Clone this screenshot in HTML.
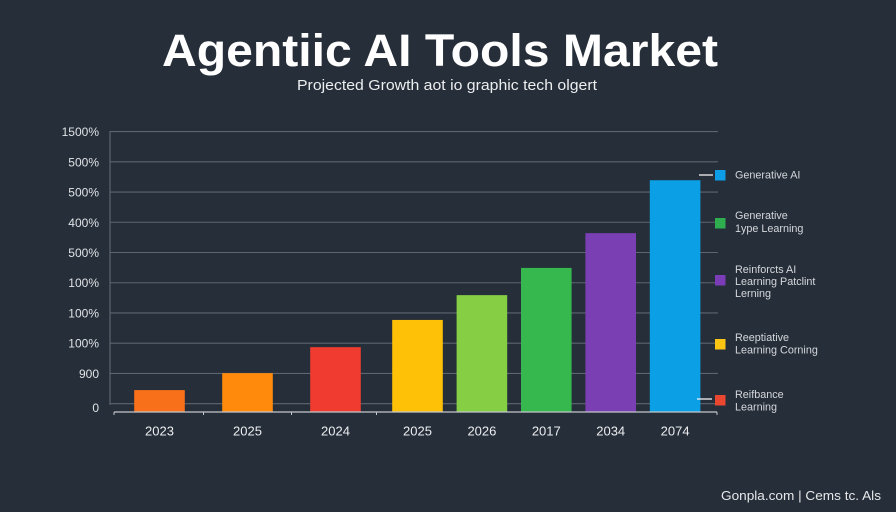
<!DOCTYPE html>
<html lang="en">
<head>
<meta charset="utf-8">
<title>Agentic AI Tools Market</title>
<style>
html,body{margin:0;padding:0;background:#262e39;}
body{width:896px;height:512px;overflow:hidden;font-family:"Liberation Sans",sans-serif;}
svg{display:block;}
text{font-family:"Liberation Sans",sans-serif;}
</style>
</head>
<body>
<svg id="chart" width="896" height="512" viewBox="0 0 896 512" xmlns="http://www.w3.org/2000/svg">
  <rect x="0" y="0" width="896" height="512" fill="#262e39"/>
  <text x="440" y="66" text-anchor="middle" font-size="45" font-weight="700" fill="#ffffff" textLength="556" lengthAdjust="spacingAndGlyphs">Agentiic AI Tools Market</text>
  <text x="447" y="90" text-anchor="middle" font-size="15" fill="#eceef0" textLength="300" lengthAdjust="spacingAndGlyphs">Projected Growth aot io graphic tech olgert</text>
  <g id="grid"></g>
  <g id="y-labels"></g>
  <line x1="110" y1="131" x2="110" y2="405" stroke="#5c6570" stroke-width="1.2"/>
  <g id="bars"></g>
  <g id="x-axis"></g>
  <g id="x-labels"></g>

  <g>
    <line x1="699" y1="175" x2="713" y2="175" stroke="#f0f1f3" stroke-width="1.3"/>
    <line x1="697" y1="399" x2="712" y2="399" stroke="#f0f1f3" stroke-width="1.3"/>
    <g>
      <rect x="715" y="170" width="10.5" height="10.5" fill="#0d9de6"/>
      <text x="735" y="178.5" font-size="10.8" fill="#d5d8dc">Generative AI</text>
    </g>
    <g>
      <rect x="715" y="218" width="10.5" height="10.5" fill="#2fae4f"/>
      <text x="735" y="219" font-size="10.8" fill="#d5d8dc">Generative</text>
      <text x="735" y="232" font-size="10.8" fill="#d5d8dc">1ype Learning</text>
    </g>
    <g>
      <rect x="715" y="275" width="10.5" height="10.5" fill="#7a3db5"/>
      <text x="735" y="273" font-size="10.8" fill="#d5d8dc">Reinforcts AI</text>
      <text x="735" y="285" font-size="10.8" fill="#d5d8dc">Learning Patclint</text>
      <text x="735" y="297" font-size="10.8" fill="#d5d8dc">Lerning</text>
    </g>
    <g>
      <rect x="715" y="339" width="10.5" height="10.5" fill="#fdc513"/>
      <text x="735" y="341" font-size="10.8" fill="#d5d8dc">Reeptiative</text>
      <text x="735" y="353.5" font-size="10.8" fill="#d5d8dc">Learning Corning</text>
    </g>
    <g>
      <rect x="715" y="395" width="10.5" height="10.5" fill="#ea4630"/>
      <text x="735" y="398" font-size="10.8" fill="#d5d8dc">Reifbance</text>
      <text x="735" y="410.5" font-size="10.8" fill="#d5d8dc">Learning</text>
    </g>
  </g>

  <text x="721" y="500" font-size="13" fill="#e6e8ea" textLength="160" lengthAdjust="spacingAndGlyphs">Gonpla.com | Cems tc. Als</text>
</svg>
<script>
const categories = ["2023", "2025", "2024", "2025", "2026", "2017", "2034", "2074"];
const seriesValues = [45, 101, 187, 277, 359, 449, 564, 739];
const barColors = ["#f9701a", "#ff8a0b", "#f03c30", "#ffc107", "#86cf45", "#36b84f", "#7b3fb4", "#0ba0e6"];
const tickValues = [900, 800, 700, 600, 500, 400, 300, 200, 100, 0];
const tickLabels = ["1500%", "500%", "500%", "400%", "500%", "100%", "100%", "100%", "900", "0"];

const NS = "http://www.w3.org/2000/svg";
const yScale = v => 403.7 - v * 0.3024;
const xCenter = i => (i < 3 ? 159.5 + 88 * i : 417.5 + 64.4 * (i - 3));
const baselineY = 412;
const barWidth = 50.6;

function make(tag, attrs, parent, content) {
  const el = document.createElementNS(NS, tag);
  Object.keys(attrs).forEach(k => el.setAttribute(k, attrs[k]));
  if (content !== undefined) el.textContent = content;
  parent.appendChild(el);
  return el;
}

const gridGroup = document.getElementById("grid");
const yLabelGroup = document.getElementById("y-labels");
tickValues.forEach((v, i) => {
  const y = yScale(v);
  const line = make("line", { x1: 110, x2: 718, y1: y, y2: y, stroke: "#5c6570", "stroke-width": 1.1 }, gridGroup);
  
  
  const label = make("text", { x: 99, y: y + (v === 0 ? 8.5 : 4.5), "text-anchor": "end", "font-size": 12, fill: "#e0e3e6" }, yLabelGroup, tickLabels[i]);
  
  
});

const barGroup = document.getElementById("bars");
const xLabelGroup = document.getElementById("x-labels");
seriesValues.forEach((v, i) => {
  const top = yScale(v);
  const bar = make("rect", { x: xCenter(i) - barWidth / 2, y: top, width: barWidth, height: baselineY - top, fill: barColors[i] }, barGroup);
  
  
  const label = make("text", { x: xCenter(i), y: 435.5, "text-anchor": "middle", "font-size": 13, fill: "#eceef0" }, xLabelGroup, categories[i]);
  
  
});

const xAxisGroup = document.getElementById("x-axis");
const axisLine = make("line", { x1: 114, x2: 717, y1: baselineY, y2: baselineY, stroke: "#c4c8cc", "stroke-width": 1.2 }, xAxisGroup);


[0, 1, 2].forEach(i => {
  const tx = (xCenter(i) + xCenter(i + 1)) / 2;
  const tick = make("line", { x1: tx, x2: tx, y1: baselineY, y2: baselineY + 3, stroke: "#c4c8cc", "stroke-width": 1 }, xAxisGroup);
  
  
});
[114, 717].forEach(tx => {
  const tick = make("line", { x1: tx, x2: tx, y1: baselineY, y2: baselineY + 3, stroke: "#c4c8cc", "stroke-width": 1 }, xAxisGroup);
  
  
});
</script>
</body>
</html>
